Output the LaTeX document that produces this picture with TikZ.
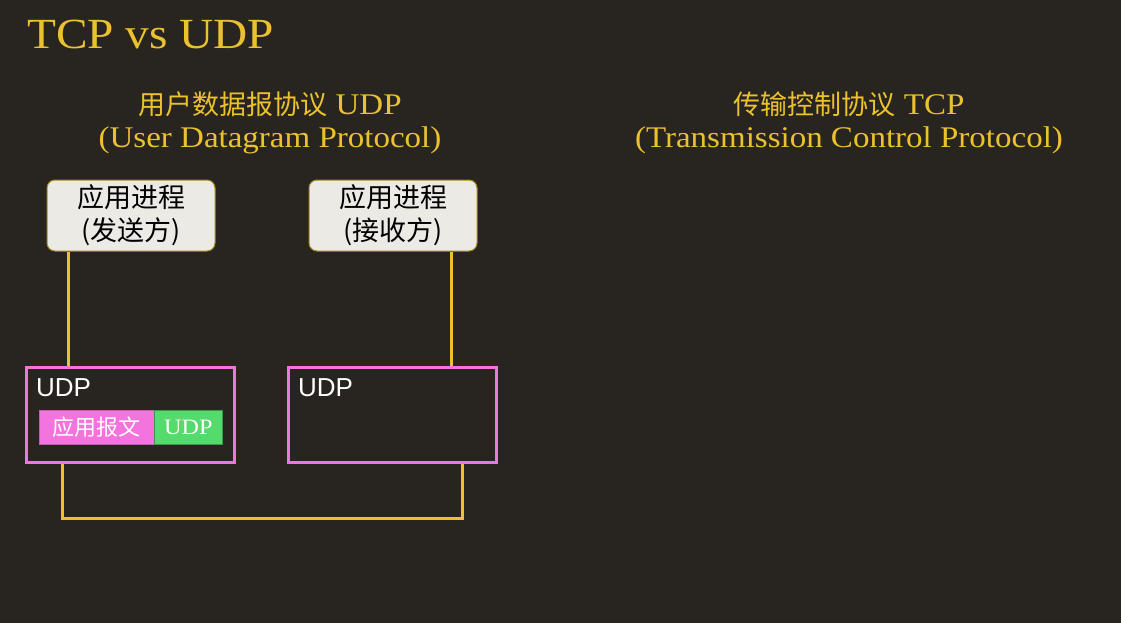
\documentclass[tikz,border=0pt]{standalone}
\usepackage{fontspec}
\setmainfont[FakeStretch=1.1]{Liberation Serif}
\setsansfont{Liberation Sans}
\newfontfamily\cjk{Noto Sans CJK SC}
\definecolor{bg}{HTML}{282520}
\definecolor{gold}{HTML}{EBC12E}
\definecolor{pinkb}{HTML}{F374DD}
\definecolor{boxfill}{HTML}{ECEAE5}
\definecolor{greenf}{HTML}{55DA6C}
\tikzset{
  conn/.style={gold, line width=3pt},
  appbox/.style={draw=gold!70!black, fill=boxfill, rounded corners=8pt, line width=1pt, minimum width=168pt, minimum height=71pt, align=center, font=\fontsize{27}{33}\selectfont\cjk, text=black},
  udpbox/.style={draw=pinkb, line width=3.5pt, minimum width=208pt, minimum height=95pt},
  udplabel/.style={text=white, font=\sffamily\fontsize{26}{28}\selectfont, anchor=west, inner sep=0pt},
  heading/.style={text=gold, align=center, font=\fontsize{30}{33}\selectfont},
}
\begin{document}
\begin{tikzpicture}[x=1pt,y=-1pt]
\fill[bg] (0,0) rectangle (1121,623);
\useasboundingbox (0,0) rectangle (1121,623);
\node[text=gold, anchor=west, inner sep=0pt, font=\fontsize{43}{46}\selectfont] (title) at (27,34) {TCP vs UDP};
\node[heading] (udph) at (270,123) {{\cjk\fontsize{27}{33}\selectfont 用户数据报协议} UDP\\(User Datagram Protocol)};
\node[heading] (tcph) at (849,123) {{\cjk\fontsize{27}{33}\selectfont 传输控制协议} TCP\\(Transmission Control Protocol)};
\node[appbox] (snd) at (131,215.5) {应用进程\\(发送方)};
\node[appbox] (rcv) at (393,215.5) {应用进程\\(接收方)};
\node[udpbox] (u1) at (130.5,415) {};
\node[udpbox] (u2) at (392.5,415) {};
\node[udplabel] (u1l) at (36,388) {UDP};
\node[udplabel] (u2l) at (298,388) {UDP};
\node[fill=pinkb, draw=pinkb!80!black, minimum width=115pt, minimum height=34pt, inner sep=0pt, text=white, font=\fontsize{22}{24}\selectfont\cjk] (msg) at (96.5,427) {应用报文};
\node[fill=greenf, draw=greenf!70!black, minimum width=68pt, minimum height=34pt, inner sep=0pt, text=white, font=\fontsize{22}{24}\selectfont, anchor=west] (hdr) at (msg.east) {UDP};
\draw[conn] (snd.south -| 68,0) -- (u1.north -| 68,0);
\draw[conn] (rcv.south -| 451,0) -- (u2.north -| 451,0);
\coordinate (b1) at (62,518);
\coordinate (b2) at (462,518);
\draw[conn] (u1.south -| b1) -- (b1) -- (b2) -- (u2.south -| b2);
\end{tikzpicture}
\end{document}
